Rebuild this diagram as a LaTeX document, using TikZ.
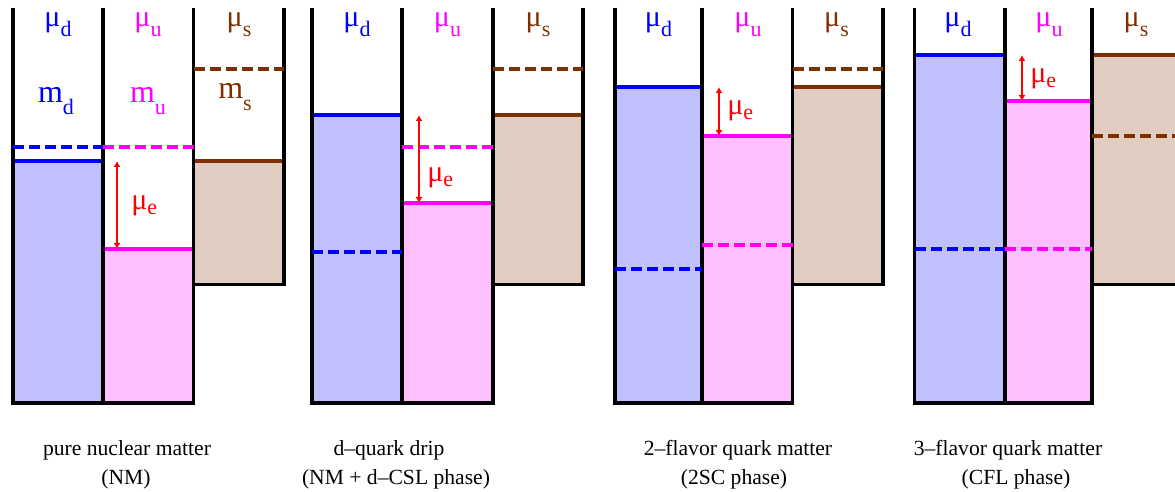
\documentclass[tikz,border=0pt]{standalone}
\usepackage{fontspec}
\setmainfont{Liberation Serif}
\usetikzlibrary{arrows.meta}
\definecolor{qblue}{RGB}{0,0,255}
\definecolor{qbluef}{RGB}{192,192,255}
\definecolor{qmag}{RGB}{255,0,255}
\definecolor{qmagf}{RGB}{255,192,255}
\definecolor{qbrown}{RGB}{128,48,0}
\definecolor{qbrownf}{RGB}{224,204,192}
\definecolor{qred}{RGB}{255,0,0}
\newcommand\mulbl[1]{{\fontsize{15}{15}\selectfont μ}\raisebox{-5pt}{\fontsize{11}{11}\selectfont #1}}
\newcommand\mlbl[1]{{\fontsize{16}{16}\selectfont m}\raisebox{-6pt}{\fontsize{11}{11}\selectfont #1}}
\newcommand\muelbl{{\fontsize{15}{15}\selectfont μ}\raisebox{-2.5pt}{\fontsize{11}{11}\selectfont e}}
\begin{document}
\begin{tikzpicture}[x=0.5pt,y=-0.5pt,
  wall/.style={line width=1.8pt,line join=miter,black},
  lvl/.style={line width=1.8pt},
  dsh/.style={line width=1.7pt,dash pattern=on 5.5pt off 2.5pt},
  arr/.style={qred,line width=1.2pt,{Latex[length=3pt,width=3.5pt]}-{Latex[length=3pt,width=3.5pt]}},
  capt/.style={font=\fontsize{10.8}{13}\selectfont,anchor=base,inner sep=0pt},
  lab/.style={anchor=base,inner sep=0pt},
  labw/.style={anchor=base west,inner sep=0pt,text=qred}]
\path[use as bounding box] (0,0) rectangle (1175,492);
\clip (0,0) rectangle (1175,492);

% ---------------- Panel 1 ----------------
\fill[qbluef] (13,161) rectangle (103,403);
\fill[qmagf] (103,249) rectangle (193.5,403);
\fill[qbrownf] (193.5,161) rectangle (284,284.5);
\draw[lvl,qblue] (13,161) -- (103,161);
\draw[lvl,qmag] (103,249) -- (193.5,249);
\draw[lvl,qbrown] (193.5,161) -- (284,161);
\draw[wall] (13,8) -- (13,403) -- (193.5,403) -- (193.5,8);
\draw[wall] (103,8) -- (103,403);
\draw[wall] (193.5,284.5) -- (284,284.5) -- (284,8);
\draw[dsh,qblue] (13,147) -- (103,147);
\draw[dsh,qmag] (103,147) -- (193.5,147);
\draw[dsh,qbrown] (193.5,69) -- (284,69);
\coordinate (a1t) at (117,161);
\coordinate (a1b) at (117,249);
\draw[arr] (a1b) -- (a1t);
\node[lab,text=qblue] (mud1) at (58,27) {\mulbl{d}};
\node[lab,text=qmag] (muu1) at (148,27) {\mulbl{u}};
\node[lab,text=qbrown] (mus1) at (239,27) {\mulbl{s}};
\node[lab,text=qblue] (md1) at (56,103) {\mlbl{d}};
\node[lab,text=qmag] (mu1) at (148,103) {\mlbl{u}};
\node[lab,text=qbrown] (ms1) at (235,99) {\mlbl{s}};
\node[labw] (mue1) at (131,210) {\muelbl};
\node[capt] (c1a) at (127,456) {pure nuclear matter};
\node[capt] (c1b) at (126,484) {(NM)};

% ---------------- Panel 2 ----------------
\fill[qbluef] (312,115) rectangle (402,403);
\fill[qmagf] (402,203) rectangle (493,403);
\fill[qbrownf] (493,115) rectangle (583,284.5);
\draw[lvl,qblue] (312,115) -- (402,115);
\draw[lvl,qmag] (402,203) -- (493,203);
\draw[lvl,qbrown] (493,115) -- (583,115);
\draw[wall] (312,8) -- (312,403) -- (493,403) -- (493,8);
\draw[wall] (402,8) -- (402,403);
\draw[wall] (493,284.5) -- (583,284.5) -- (583,8);
\draw[dsh,qblue] (312,252) -- (402,252);
\draw[dsh,qmag] (402,147) -- (493,147);
\draw[dsh,qbrown] (493,69) -- (583,69);
\coordinate (a2t) at (419,115);
\coordinate (a2b) at (419,203);
\draw[arr] (a2b) -- (a2t);
\node[lab,text=qblue] (mud2) at (357,27) {\mulbl{d}};
\node[lab,text=qmag] (muu2) at (447.5,27) {\mulbl{u}};
\node[lab,text=qbrown] (mus2) at (538,27) {\mulbl{s}};
\node[labw] (mue2) at (427,182) {\muelbl};
\node[capt] (c2a) at (389,456) {d–quark drip};
\node[capt] (c2b) at (396,484) {(NM + d–CSL phase)};

% ---------------- Panel 3 ----------------
\fill[qbluef] (615,87) rectangle (702,403);
\fill[qmagf] (702,136) rectangle (792.5,403);
\fill[qbrownf] (792.5,87) rectangle (883,284.5);
\draw[lvl,qblue] (615,87) -- (702,87);
\draw[lvl,qmag] (702,136) -- (792.5,136);
\draw[lvl,qbrown] (792.5,87) -- (883,87);
\draw[wall] (615,8) -- (615,403) -- (792.5,403) -- (792.5,8);
\draw[wall] (702,8) -- (702,403);
\draw[wall] (792.5,284.5) -- (883,284.5) -- (883,8);
\draw[dsh,qblue] (615,269) -- (702,269);
\draw[dsh,qmag] (702,245) -- (792.5,245);
\draw[dsh,qbrown] (792.5,69) -- (883,69);
\coordinate (a3t) at (719,87);
\coordinate (a3b) at (719,136);
\draw[arr] (a3b) -- (a3t);
\node[lab,text=qblue] (mud3) at (658.5,27) {\mulbl{d}};
\node[lab,text=qmag] (muu3) at (748,27) {\mulbl{u}};
\node[lab,text=qbrown] (mus3) at (836.5,27) {\mulbl{s}};
\node[labw] (mue3) at (727,114.5) {\muelbl};
\node[capt] (c3a) at (738,456) {2–flavor quark matter};
\node[capt] (c3b) at (734,484) {(2SC phase)};

% ---------------- Panel 4 ----------------
\fill[qbluef] (914.5,55) rectangle (1005,403);
\fill[qmagf] (1005,101) rectangle (1092,403);
\fill[qbrownf] (1092,55) rectangle (1183,284.5);
\draw[lvl,qblue] (914.5,55) -- (1005,55);
\draw[lvl,qmag] (1005,101) -- (1092,101);
\draw[lvl,qbrown] (1092,55) -- (1183,55);
\draw[wall] (914.5,8) -- (914.5,403) -- (1092,403) -- (1092,8);
\draw[wall] (1005,8) -- (1005,403);
\draw[wall] (1092,284.5) -- (1183,284.5) -- (1183,8);
\draw[dsh,qblue] (914.5,249) -- (1005,249);
\draw[dsh,qmag] (1005,249) -- (1092,249);
\draw[dsh,qbrown] (1092,136) -- (1183,136);
\coordinate (a4t) at (1022,55);
\coordinate (a4b) at (1022,101);
\draw[arr] (a4b) -- (a4t);
\node[lab,text=qblue] (mud4) at (958,27) {\mulbl{d}};
\node[lab,text=qmag] (muu4) at (1049,27) {\mulbl{u}};
\node[lab,text=qbrown] (mus4) at (1136,27) {\mulbl{s}};
\node[labw] (mue4) at (1030,83) {\muelbl};
\node[capt] (c4a) at (1008,456) {3–flavor quark matter};
\node[capt] (c4b) at (1016,484) {(CFL phase)};
\end{tikzpicture}
\end{document}
